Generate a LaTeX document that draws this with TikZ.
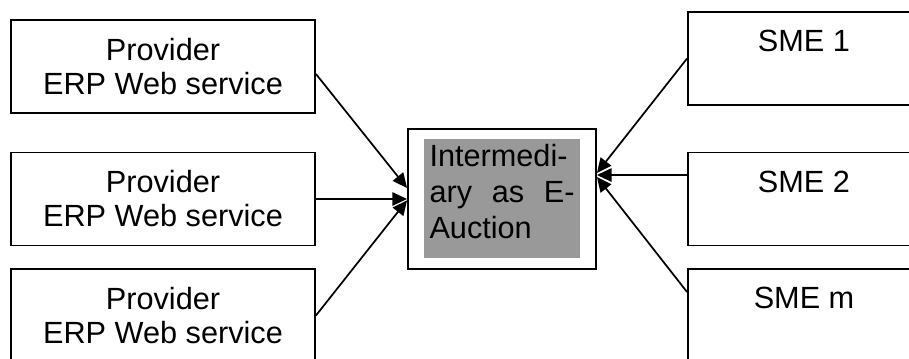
\documentclass[tikz,border=0pt]{standalone}
\usepackage{fontspec}
\setmainfont{Liberation Sans}
\usetikzlibrary{positioning,arrows.meta}
\definecolor{hubgray}{RGB}{153,153,153}

\begin{document}
\begin{tikzpicture}[x=0.75pt,y=-0.75pt,>={Triangle[length=11pt,width=10pt]},
every node/.style={font=\fontsize{23}{25.5}\selectfont,inner sep=0pt},
erp/.style={draw,line width=1.4pt,align=center,minimum width=228pt,minimum height=69.75pt},
sme/.style={draw,line width=1.4pt,minimum width=174pt,minimum height=69.75pt,text height=16.5pt,text depth=26.3pt},
hub/.style={draw,line width=1.4pt,minimum width=141pt,minimum height=105pt},
link/.style={->,line width=1.3pt}]
\useasboundingbox (0,0) rectangle (909,358);
% providers on the left
\node[erp] (erp1) at (163,66.5) {Provider\\ERP Web service};
\node[erp] (erp2) at (163,199) {Provider\\ERP Web service};
\node[erp] (erp3) at (163,315.5) {Provider\\ERP Web service};
% SMEs on the right
\node[sme] (sme1) at (804,58.5) {SME 1};
\node[sme] (sme2) at (804,199) {SME 2};
\node[sme] (smem) at (804,315.5) {SME m};
% auction in the middle
\node[hub] (hub) at (502,199) {};
\node[fill=hubgray,minimum width=117pt,minimum height=89.25pt] (hubbg) at (502,198.5) {};
\node[text width=108.75pt,align=left,font=\fontsize{23}{27}\selectfont] (hubtext) at ([yshift=5pt]hubbg.center)
  {Intermedi-\\ary\hfill as\hfill E-\\Auction};
\draw[link] ([yshift=-5.6pt]erp1.east) -- ([yshift=8.25pt]hub.west);
\draw[link] (erp2.east) -- (hub.west);
\draw[link] (erp3.east) -- ([yshift=-1pt]hub.west);
\draw[link] (sme1.west) -- ([yshift=19.5pt]hub.east);
\draw[link] ([yshift=18pt]sme2.west) -- ([yshift=18pt]hub.east);
\draw[link] ([yshift=17.6pt]smem.west) -- ([yshift=16.5pt]hub.east);
\end{tikzpicture}
\end{document}
